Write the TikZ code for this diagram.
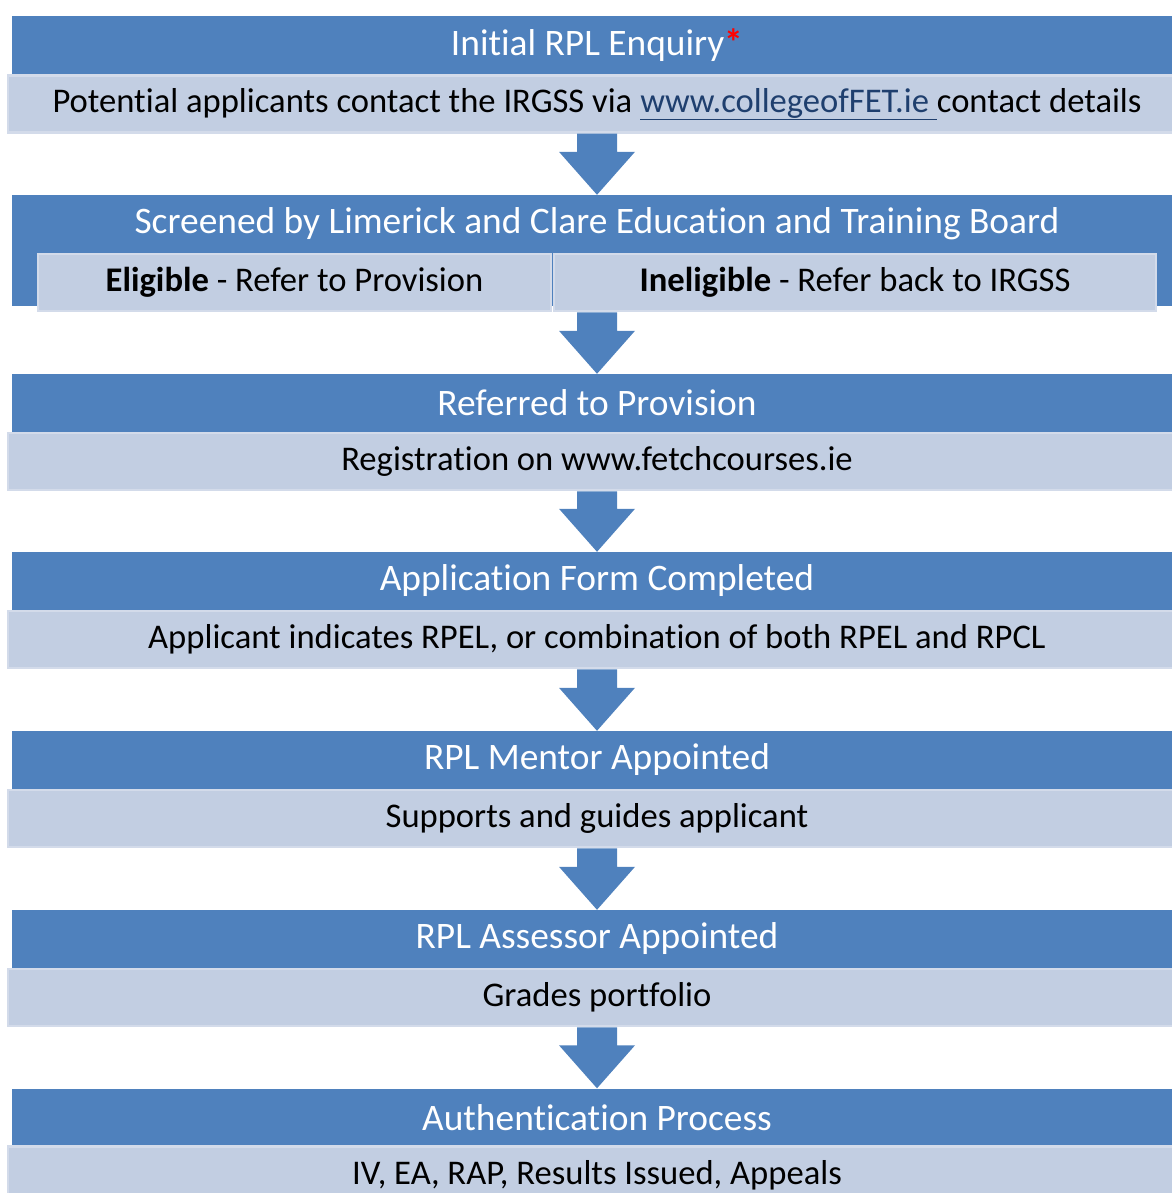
\documentclass[tikz,border=0pt]{standalone}
\usepackage{fontspec}
\setmainfont{Carlito}[Ligatures={NoCommon}]
\usetikzlibrary{calc}
\definecolor{hdrblue}{HTML}{4F81BD}
\definecolor{lightbox}{HTML}{C2CEE2}
\definecolor{lightedge}{HTML}{D3DBEA}
\definecolor{linkblue}{HTML}{1F3F6E}
\tikzset{
  hdr/.style={fill=hdrblue, minimum width=1170pt, minimum height=58pt, inner sep=0pt, text=white, font=\fontsize{37.4}{42}\selectfont},
  hdrtext/.style={inner sep=0pt, text=white, font=\fontsize{37.4}{42}\selectfont},
  lbox/.style={fill=lightbox, draw=lightedge, line width=2.5pt, minimum width=1178pt, minimum height=57pt, inner sep=0pt, text=black, font=\fontsize{34.6}{39}\selectfont},
  subbox/.style={fill=lightbox, draw=lightedge, line width=2.5pt, minimum height=57pt, inner sep=0pt, text=black, font=\fontsize{34.6}{39}\selectfont},
  flowfill/.style={fill=hdrblue}
}
\newcommand{\flowarrow}[2]{%
  \fill[flowfill] let \p1=(#1), \p2=(#2) in
    (\x2-20pt,\y1) -- (\x2+20pt,\y1) -- (\x2+20pt,\y2+43pt) -- (\x2+38pt,\y2+43pt)
    -- (\x2,\y2) -- (\x2-38pt,\y2+43pt) -- (\x2-20pt,\y2+43pt) -- cycle;}
\begin{document}
\begin{tikzpicture}[x=1pt,y=-1pt]
\useasboundingbox (0,0) rectangle (1171,1193);
% block 1
\node[hdr] (h1) at (597,45) {Initial RPL Enquiry{\color{red}\bfseries *}};
\node[lbox] (l1) at (597,104) {Potential applicants contact the IRGSS via \textcolor{linkblue}{\underline{www.collegeofFET.ie\ }}contact details};
% block 2
\node[fill=hdrblue, minimum width=1170pt, minimum height=111pt, inner sep=0pt] (h2) at (597,250.5) {};
\node[hdrtext] (h2t) at (597,224) {Screened by Limerick and Clare Education and Training Board};
\node[subbox, minimum width=513pt] (s1) at (294.5,282.5) {\textbf{Eligible} - Refer to Provision};
\node[subbox, minimum width=602pt] (s2) at (855,282.5) {\textbf{Ineligible} - Refer back to IRGSS};
% block 3
\node[hdr] (h3) at (597,403) {Referred to Provision};
\node[lbox] (l3) at (597,461.5) {Registration on www.fetchcourses.ie};
% block 4
\node[hdr] (h4) at (597,581) {Application Form Completed};
\node[lbox] (l4) at (597,639.5) {Applicant indicates RPEL, or combination of both RPEL and RPCL};
% block 5
\node[hdr] (h5) at (597,760) {RPL Mentor Appointed};
\node[lbox] (l5) at (597,818.5) {Supports and guides applicant};
% block 6
\node[hdr] (h6) at (597,939) {RPL Assessor Appointed};
\node[lbox] (l6) at (597,997.5) {Grades portfolio};
% block 7
\node[hdr] (h7) at (597,1117.5) {Authentication Process};
\node[lbox] (l7) at (597,1175) {IV, EA, RAP, Results Issued, Appeals};
% arrows
\flowarrow{l1.south}{h2.north}
\flowarrow{s2.south}{h3.north}
\flowarrow{l3.south}{h4.north}
\flowarrow{l4.south}{h5.north}
\flowarrow{l5.south}{h6.north}
\flowarrow{l6.south}{h7.north}
\end{tikzpicture}
\end{document}
